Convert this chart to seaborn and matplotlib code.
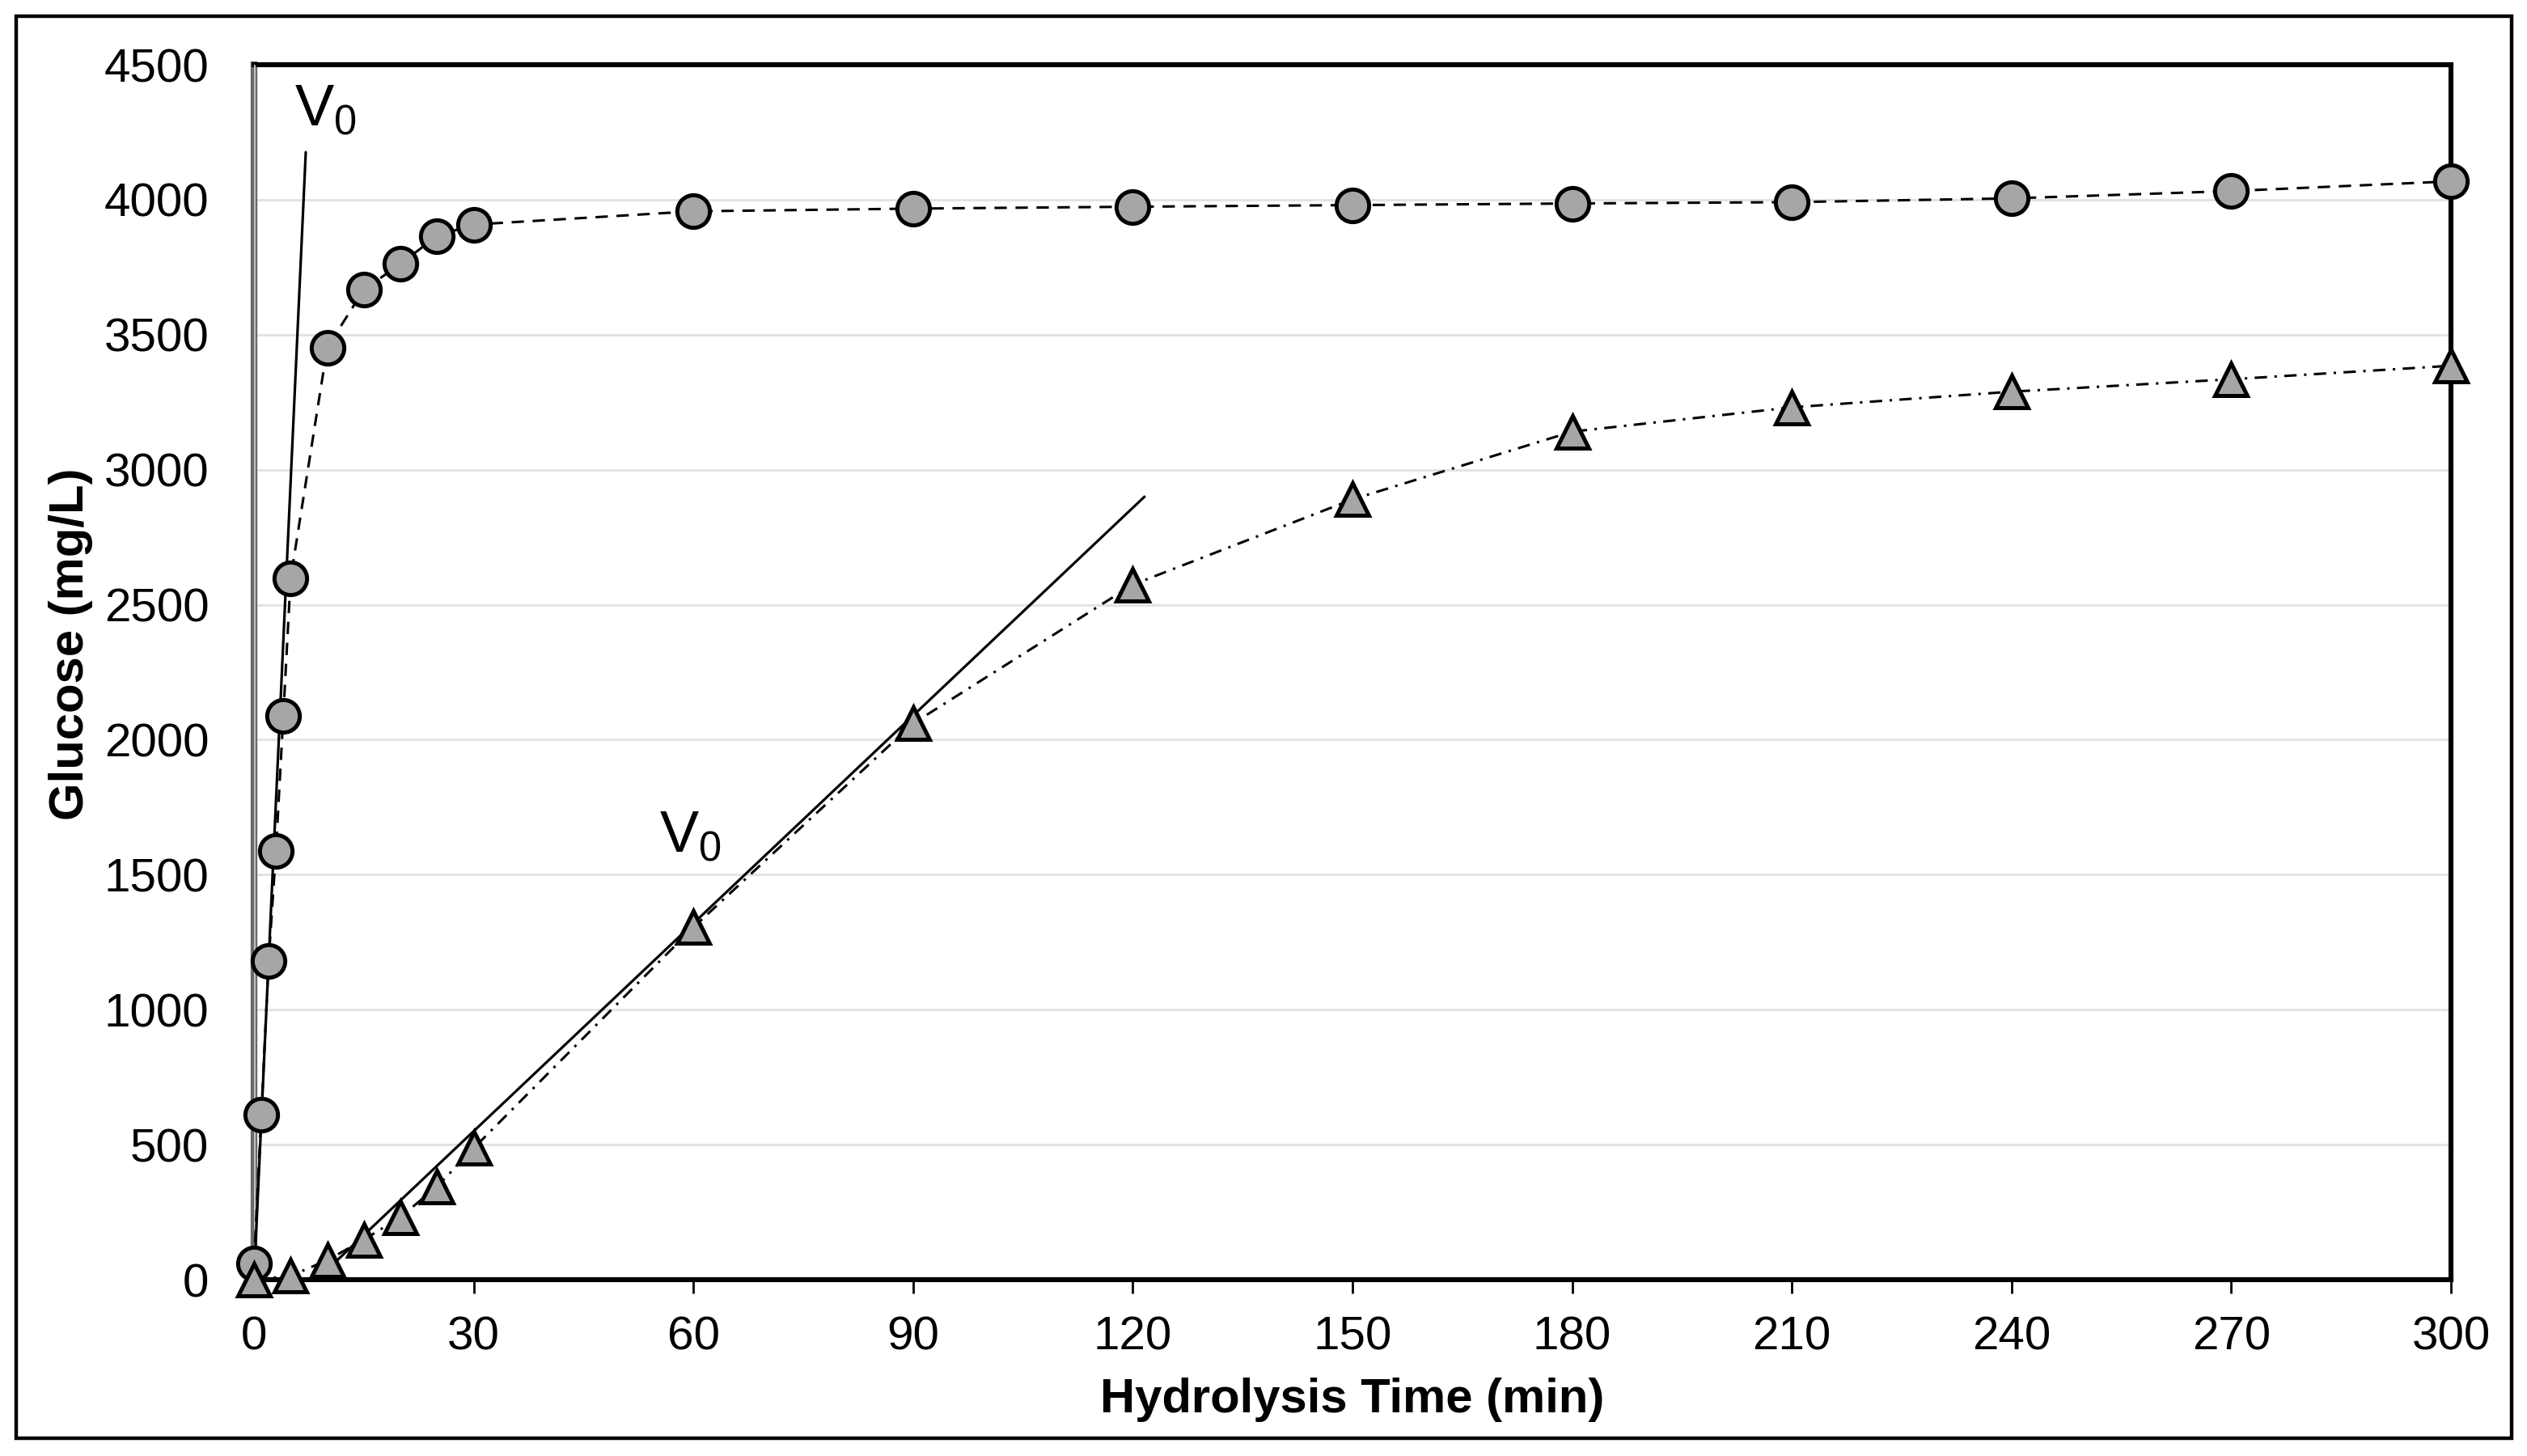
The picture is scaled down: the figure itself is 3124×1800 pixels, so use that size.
import matplotlib
matplotlib.use("Agg")
import matplotlib.pyplot as plt
import seaborn as sns
from matplotlib.patches import Rectangle

# ---------------- data ----------------
time_circle = [0, 1, 2, 3, 4, 5, 10, 15, 20, 25, 30, 60, 90, 120, 150, 180, 210, 240, 270, 300]
glucose_circle = [60, 611, 1180, 1589, 2088, 2597, 3452, 3667, 3762, 3866, 3908,
                  3957, 3967, 3974, 3980, 3986, 3991, 4005, 4032, 4068]

time_triangle = [0, 5, 10, 15, 20, 25, 30, 60, 90, 120, 150, 180, 210, 240, 270, 300]
glucose_triangle = [0, 14, 72, 148, 232, 345, 487, 1305, 2060, 2574, 2890, 3141,
                    3231, 3289, 3335, 3385]

v0_circle_x = [0, 7.07]
v0_circle_y = [0, 4176]
v0_triangle_x = [10.9, 121.6]
v0_triangle_y = [60, 2900]

x_ticks = [0, 30, 60, 90, 120, 150, 180, 210, 240, 270, 300]
y_ticks = [0, 500, 1000, 1500, 2000, 2500, 3000, 3500, 4000, 4500]

x_label = "Hydrolysis Time (min)"
y_label = "Glucose (mg/L)"
v0_label = "V$_0$"

# ---------------- style ----------------
sns.set_theme(style="white")
plt.rcParams["font.family"] = ["Liberation Sans", "DejaVu Sans"]
plt.rcParams["mathtext.default"] = "regular"

W, H, DPI = 3124, 1800, 200
fig = plt.figure(figsize=(W / DPI, H / DPI), dpi=DPI)
fig.patch.set_facecolor("white")

left_px, right_px, top_px, bottom_px = 314, 3030, 80, 1582
ax = fig.add_axes([left_px / W, 1 - bottom_px / H,
                   (right_px - left_px) / W, (bottom_px - top_px) / H])
ax.set_facecolor("white")

fill = "#a6a6a6"

# gridlines
ax.set_axisbelow(True)
ax.yaxis.grid(True, color="#e3e3e3", linewidth=1.1)
ax.xaxis.grid(False)

# V0 tangent lines
ax.plot(v0_circle_x, v0_circle_y, color="black", linewidth=1.15, zorder=3)
ax.plot(v0_triangle_x, v0_triangle_y, color="black", linewidth=1.15, zorder=3)

# series
sns.lineplot(x=time_circle, y=glucose_circle, ax=ax, color="black",
             linewidth=1.1, linestyle=(0, (5, 3.5)), marker="o",
             markersize=14.5, markerfacecolor=fill, markeredgecolor="black",
             markeredgewidth=1.8, clip_on=False, zorder=5)
sns.lineplot(x=time_triangle, y=glucose_triangle, ax=ax, color="black",
             linewidth=1.1, linestyle=(0, (5, 3, 1, 3)), marker="^",
             markersize=14.3, markerfacecolor=fill, markeredgecolor="black",
             markeredgewidth=1.8, clip_on=False, zorder=5)

# V0 labels
ax.text(5.5, 4275, v0_label, fontsize=26, ha="left", va="baseline", color="black", zorder=6)
ax.text(55.3, 1585, v0_label, fontsize=26, ha="left", va="baseline", color="black", zorder=6)

# axes limits and ticks
ax.set_xlim(0, 300)
ax.set_ylim(0, 4500)
ax.set_xticks(x_ticks)
ax.set_yticks(y_ticks)
ax.set_xticklabels([str(t) for t in x_ticks])
ax.set_yticklabels([str(t) for t in y_ticks])
ax.tick_params(axis="x", which="both", direction="out", length=6, width=1.0,
               color="black", labelsize=21, pad=10, bottom=True)
ax.tick_params(axis="y", which="both", length=0, labelsize=21, pad=20, left=False)
for lab in ax.get_xticklabels() + ax.get_yticklabels():
    lab.set_color("black")

# spines
for side in ["top", "right", "bottom"]:
    ax.spines[side].set_visible(True)
    ax.spines[side].set_color("black")
    ax.spines[side].set_linewidth(2.2)
ax.spines["left"].set_visible(True)
ax.spines["left"].set_color("#6a6a6a")
ax.spines["left"].set_linewidth(3.0)
ax.axvline(0, color="#c8c8c8", linewidth=1.0, zorder=2.6)

# axis labels
ax.set_xlabel(x_label, fontsize=21.5, fontweight="bold", color="black", va="top")
ax.xaxis.set_label_coords((1672 - left_px) / (right_px - left_px),
                          (bottom_px - 1703) / (bottom_px - top_px))
ax.set_ylabel(y_label, fontsize=21.5, fontweight="bold", color="black", va="center")
ax.yaxis.set_label_coords((88 - left_px) / (right_px - left_px),
                          (bottom_px - 796) / (bottom_px - top_px))

# outer frame
fig.patches.append(Rectangle((20 / W, 1 - 1778 / H), (3105 - 20) / W, (1778 - 20) / H,
                             transform=fig.transFigure, fill=False,
                             edgecolor="black", linewidth=1.6, zorder=10))

fig.savefig("out.png", dpi=DPI, facecolor="white")
